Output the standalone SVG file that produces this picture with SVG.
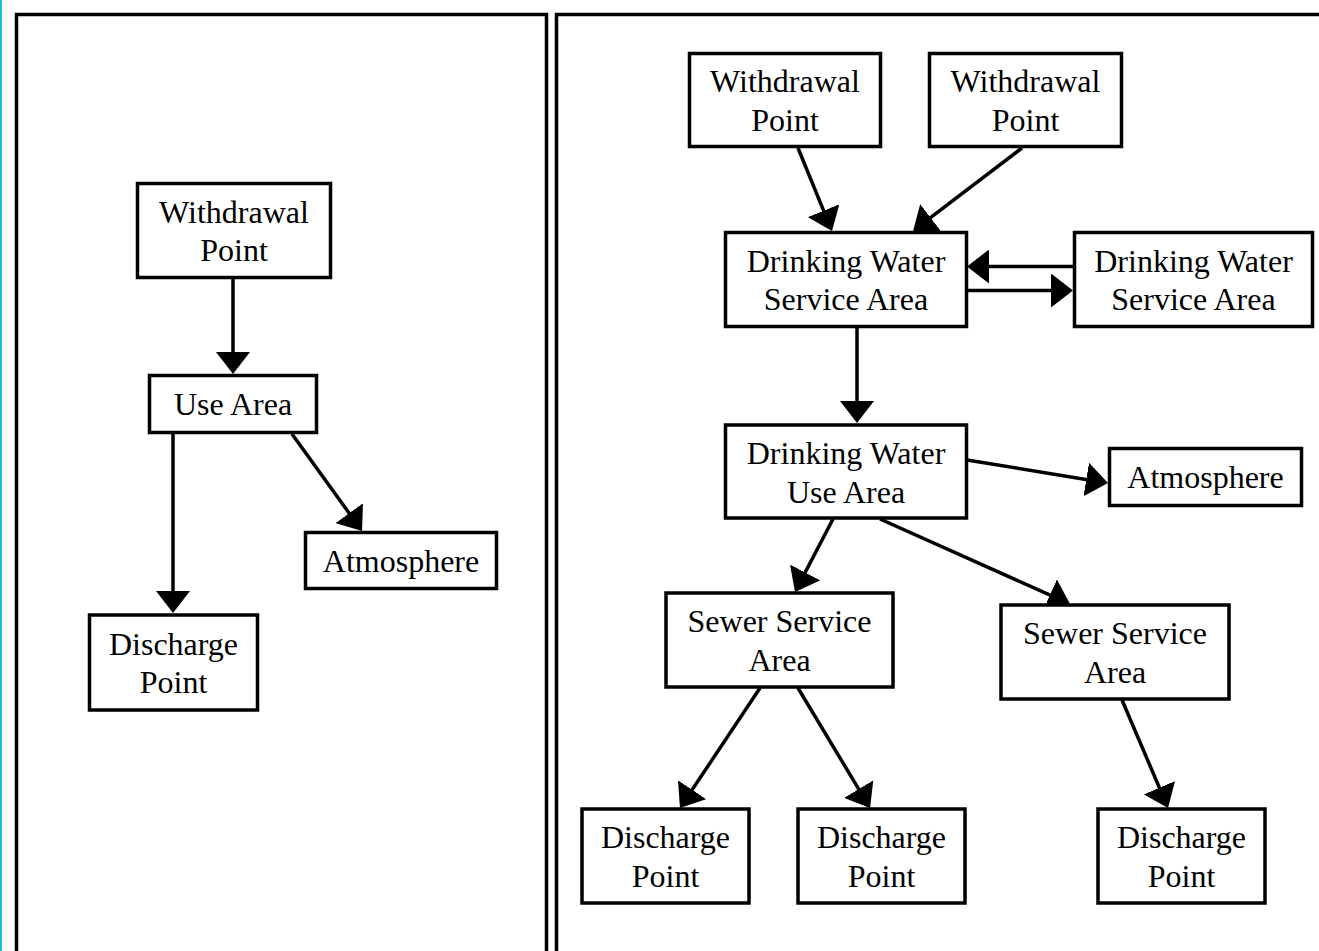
<svg xmlns="http://www.w3.org/2000/svg" width="1319" height="951" viewBox="0 0 1319 951">
<style>
.panel{fill:none;stroke:#000;stroke-width:3.5}
.box{fill:#fff;stroke:#000;stroke-width:3.5}
.c{fill:none;stroke:#000;stroke-width:3.5}
text{font-family:'Liberation Serif','Times New Roman',Times,serif;font-size:32px;fill:#000;text-anchor:middle}
</style>
<defs>
<marker id="ah" viewBox="0 0 22 34" refX="12" refY="17" markerWidth="22" markerHeight="34" markerUnits="userSpaceOnUse" orient="auto">
<path d="M0,0 L22,17 L0,34 z" fill="#000"/>
</marker>
</defs>
<rect x="0" y="0" width="1319" height="951" fill="#fff"/>
<rect x="0" y="0" width="2" height="951" fill="#1fbcd2"/>
<g id="panels">
<path class="panel" d="M16.5,960 V14.5 H546.5 V960"/>
<path class="panel" d="M556.5,960 V14.5 H1330"/>
</g>
<g id="connectors">
<line class="c" x1="233" y1="279" x2="233" y2="364" marker-end="url(#ah)"/>
<line class="c" x1="173" y1="433" x2="173" y2="603" marker-end="url(#ah)"/>
<line class="c" x1="292" y1="434" x2="356.2" y2="522.9" marker-end="url(#ah)"/>
<line class="c" x1="798" y1="148" x2="828.2" y2="221.8" marker-end="url(#ah)"/>
<line class="c" x1="1022" y1="148" x2="921" y2="224.9" marker-end="url(#ah)"/>
<line class="c" x1="1074" y1="266.5" x2="977" y2="266.5" marker-end="url(#ah)"/>
<line class="c" x1="967" y1="290.5" x2="1063" y2="290.5" marker-end="url(#ah)"/>
<line class="c" x1="857" y1="327" x2="857" y2="413" marker-end="url(#ah)"/>
<line class="c" x1="967" y1="460" x2="1098.1" y2="481.4" marker-end="url(#ah)"/>
<line class="c" x1="833" y1="519" x2="799.6" y2="583.1" marker-end="url(#ah)"/>
<line class="c" x1="880" y1="519" x2="1060.9" y2="599.9" marker-end="url(#ah)"/>
<line class="c" x1="760" y1="688" x2="685.5" y2="799.7" marker-end="url(#ah)"/>
<line class="c" x1="798" y1="688" x2="864.9" y2="799.4" marker-end="url(#ah)"/>
<line class="c" x1="1122" y1="700" x2="1164.1" y2="798.8" marker-end="url(#ah)"/>
</g>
<g id="L_withdrawal">
<rect class="box" x="137.5" y="183.5" width="193" height="94"/>
<text x="234" y="223" font-family="Liberation Serif">Withdrawal</text>
<text x="234" y="261" font-family="Liberation Serif">Point</text>
</g>
<g id="L_use">
<rect class="box" x="149.5" y="375.5" width="167" height="57"/>
<text x="233" y="415">Use Area</text>
</g>
<g id="L_atmos">
<rect class="box" x="305.5" y="532.5" width="191" height="56"/>
<text x="401" y="572">Atmosphere</text>
</g>
<g id="L_discharge">
<rect class="box" x="89.5" y="615" width="168" height="95"/>
<text x="173.5" y="655">Discharge</text>
<text x="173.5" y="693">Point</text>
</g>
<g id="R_wp1">
<rect class="box" x="689.5" y="53.5" width="191" height="93"/>
<text x="785" y="91.5">Withdrawal</text>
<text x="785" y="130.5">Point</text>
</g>
<g id="R_wp2">
<rect class="box" x="929.5" y="53.5" width="192" height="93"/>
<text x="1025.5" y="91.5">Withdrawal</text>
<text x="1025.5" y="130.5">Point</text>
</g>
<g id="R_dwsa1">
<rect class="box" x="725.5" y="232.5" width="241" height="94"/>
<text x="846" y="271.5">Drinking Water</text>
<text x="846" y="310">Service Area</text>
</g>
<g id="R_dwsa2">
<rect class="box" x="1074.5" y="232.5" width="238" height="94"/>
<text x="1193.5" y="271.5">Drinking Water</text>
<text x="1193.5" y="310">Service Area</text>
</g>
<g id="R_dwua">
<rect class="box" x="725.5" y="425" width="241" height="93"/>
<text x="846" y="464">Drinking Water</text>
<text x="846" y="502.5">Use Area</text>
</g>
<g id="R_atmos">
<rect class="box" x="1109.5" y="448.5" width="192" height="57"/>
<text x="1205.5" y="488">Atmosphere</text>
</g>
<g id="R_ssa1">
<rect class="box" x="666" y="593" width="227" height="94"/>
<text x="779.5" y="632">Sewer Service</text>
<text x="779.5" y="671">Area</text>
</g>
<g id="R_ssa2">
<rect class="box" x="1001" y="605" width="228" height="94"/>
<text x="1115" y="644">Sewer Service</text>
<text x="1115" y="683">Area</text>
</g>
<g id="R_d1">
<rect class="box" x="582" y="809" width="167" height="94"/>
<text x="665.5" y="848">Discharge</text>
<text x="665.5" y="887">Point</text>
</g>
<g id="R_d2">
<rect class="box" x="798" y="809" width="167" height="94"/>
<text x="881.5" y="848">Discharge</text>
<text x="881.5" y="887">Point</text>
</g>
<g id="R_d3">
<rect class="box" x="1098" y="809" width="167" height="94"/>
<text x="1181.5" y="848">Discharge</text>
<text x="1181.5" y="887">Point</text>
</g>
</svg>
